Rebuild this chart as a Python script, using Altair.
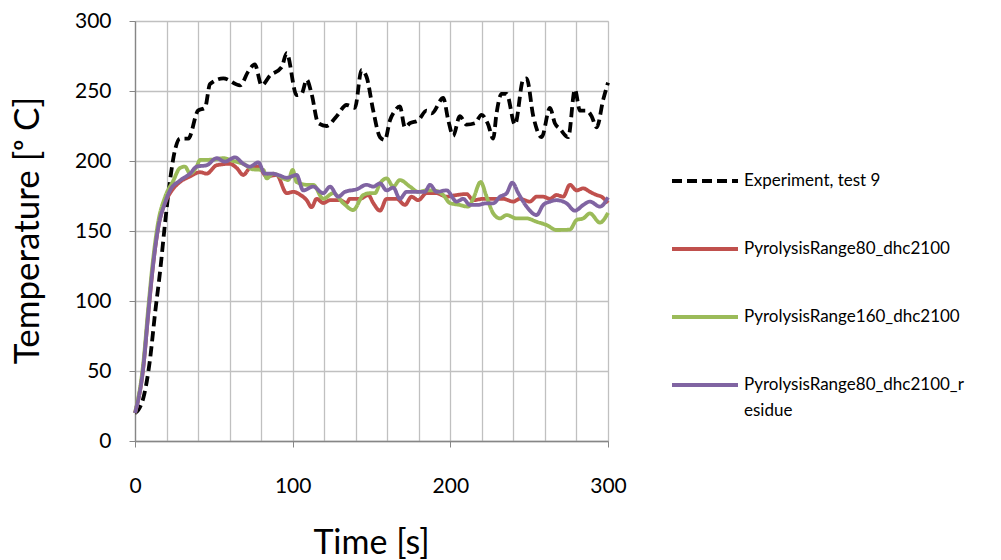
import altair as alt
import pandas as pd

series_names = ["Experiment, test 9", "PyrolysisRange80_dhc2100",
                "PyrolysisRange160_dhc2100", "PyrolysisRange80_dhc2100_residue"]
series_colors = ["#000000", "#C0504D", "#9BBB59", "#8064A2"]

exp_t = [0, 2, 6, 9.5, 12.7, 16, 19, 22.2, 25.4, 28.5, 33.8, 40, 44.4, 47.6, 56, 66.6, 71.9, 76, 80.3,
         85.6, 93, 96.2, 102.5, 105.7, 108.9, 112, 116.2, 121.5, 127.9, 134.2, 139.5, 143.7, 146.9,
         151.1, 155.4, 158.5, 161.7, 164.9, 168, 171.2, 174.4, 179.6, 184.9, 188.1, 195.5, 198.7,
         201.8, 206, 210.3, 215.6, 219.8, 224, 227.2, 229.3, 232.5, 235.7, 241, 246.2, 248.4, 252.6,
         257.9, 263.2, 266.3, 269.5, 274.8, 279, 282.2, 286.4, 289.6, 292.8, 297, 300]
exp_T = [20, 22, 34, 58, 91, 122, 155, 186, 208, 216, 216, 236, 238, 255, 259, 254, 264, 269, 254,
         261, 267, 277, 247, 248, 258, 248, 227, 225, 232, 240, 238, 265, 260,
         236, 217, 215, 229, 236, 239, 224, 227, 229, 236, 234, 245, 229,
         218, 232, 226, 227, 233, 226, 216, 234, 248, 248, 226, 258, 259, 232,
         217, 238, 227, 223, 217, 251, 236, 236, 232, 224, 244, 256]

red_t = [0, 5.3, 8.4, 11.6, 14.8, 19, 22.2, 28.5, 34.9, 41.2, 45.5, 51.8, 60.2, 64.5, 68.7, 72.9,
         78.2, 83.5, 89.8, 96.2, 100.4, 104.6, 108.9, 112, 115.2, 119.4, 123.7, 130, 134.2, 136.3,
         142.7, 148, 151.1, 155.4, 159.6, 166, 171.2, 175.4, 179.6, 184.9, 191.3, 197.6, 204, 210.3,
         214.5, 220.9, 227.2, 233.5, 239.9, 244.1, 250.5, 254.7, 258.9, 263.2, 267.4, 271.6, 275.8,
         280.1, 284.3, 288.5, 292.8, 295.9, 300]
red_T = [20, 53, 91, 127, 153, 170, 177, 185, 189, 192, 191, 197, 198, 195, 190, 195,
         196, 189, 190, 177, 178, 176, 172, 167, 173, 170, 172, 172, 170, 173,
         173, 175.7, 170, 164.5, 173, 173, 168.6, 174.5, 172, 177, 177, 174.5, 175.7, 176.4,
         172, 173, 173, 173, 171, 173, 171, 174.5, 174.5, 173, 175.7, 174.5, 183,
         179, 180.5, 178, 175.7, 174.5, 170]

green_t = [0, 5.3, 8.4, 11.6, 14.8, 19, 24.3, 28.5, 31.7, 34.9, 39.1, 41.2, 49.7, 56, 62.4, 68.7,
           75, 81.4, 83.5, 87.7, 94, 97.2, 100, 102.5, 108.9, 113, 119.4, 125.7, 132, 138.4, 144.8,
           149, 152.2, 155.4, 159.6, 163.8, 168, 174.4, 179.6, 184.9, 189.1, 195.5, 199.7, 206,
           211.3, 214.5, 219.2, 223, 227.2, 231.5, 235.7, 242, 248.4, 254.7, 261, 267.4, 275.8,
           280.1, 284.3, 288.5, 294.9, 300]
green_T = [20, 56, 95, 131, 157, 174, 186, 195, 196, 191, 196, 200.7, 201, 202, 200, 198,
           194, 193.6, 187.6, 191, 187.6, 186.4, 193.6, 185, 183, 183, 173, 177, 170, 165, 175.7,
           177, 177, 184, 187.6, 181.7, 186.4, 181.7, 178, 179, 179, 175.7, 170, 168.6,
           167.4, 173, 185, 174.5, 162.6, 159, 161.4, 159, 159, 156.6, 154.3, 150.7, 151,
           157.9, 159, 162.6, 156, 163]

purple_t = [0, 5.3, 8.4, 11.6, 14.8, 19, 22.2, 28.5, 34.9, 39.1, 45.5, 51.8, 57, 63.4, 68.7, 72.9,
            78.2, 82.4, 86.7, 90.9, 96.2, 102.5, 106.7, 113, 119.4, 123.7, 128.9, 133.2, 140.6,
            146.9, 151.1, 155.4, 159.6, 163.8, 168, 172.3, 178.6, 183.9, 187.1, 191.3, 197.6, 204,
            208.2, 212.4, 216.7, 223, 227.2, 231.5, 235.7, 239.3, 243.1, 248.4, 254.7, 258.9, 263.2,
            267.4, 273.7, 279, 284.3, 288.5, 294.9, 300]
purple_T = [20, 53, 91, 127, 153, 170, 179, 186, 191, 196, 197, 202, 199.5, 202.6, 198, 196,
            199, 191, 191, 190, 188, 190, 179, 181.7, 177, 181.7, 174.5, 178, 179.8,
            183, 181.7, 184, 179, 181, 173, 178, 178, 178, 183, 178, 179, 171,
            173, 168.6, 168.6, 169.8, 169.8, 174.5, 177, 184.5, 177, 167.4, 161.4, 168.6, 171,
            172, 169.8, 164.5, 168.6, 171, 167.4, 174]

x_grid_values = list(range(0, 301, 20))
x_label_values = [0, 100, 200, 300]
y_values = [0, 50, 100, 150, 200, 250, 300]

rows = []
for name, ts, vs in zip(series_names, [exp_t, red_t, green_t, purple_t],
                        [exp_T, red_T, green_T, purple_T]):
    for i, (t, v) in enumerate(zip(ts, vs)):
        rows.append({"series": name, "t": t, "T": v, "i": i})
df = pd.DataFrame(rows)

FONT = "Lato"
GRID = "#C0C0C0"
AXIS = "#868686"

x_scale = alt.Scale(domain=[0, 300], nice=False)
y_scale = alt.Scale(domain=[0, 300], nice=False)

y_axis = alt.Axis(values=y_values, grid=True, gridColor=GRID, gridWidth=1.3,
                  ticks=True, tickSize=6, tickColor=AXIS, domainColor=AXIS,
                  domainWidth=1.3, labelFont=FONT, labelFontSize=21,
                  labelColor="#000000", labelPadding=18,
                  title="Temperature [\u1d52 C]", titleFont=FONT, titleFontSize=35,
                  titleFontWeight="normal", titleColor="#000000", titleAngle=-90,
                  titleX=-108, titleY=209, titleBaseline="middle", titleAlign="center")

label_expr = ("datum.label == 'PyrolysisRange80_dhc2100_residue' ? "
              "['PyrolysisRange80_dhc2100_r', 'esidue'] : datum.label")

legend_def = dict(title=None, orient="none", legendX=535, legendY=125,
                  symbolType="stroke", symbolSize=4356, symbolStrokeWidth=3.8,
                  labelFont=FONT, labelFontSize=17, labelColor="#000000",
                  labelLimit=400, labelOffset=4, rowPadding=25, labelExpr=label_expr)

grid_layer = alt.Chart(df).mark_point(opacity=0).encode(
    x=alt.X("t:Q", scale=x_scale,
            axis=alt.Axis(values=x_grid_values, orient="bottom", grid=True, gridColor=GRID,
                          gridWidth=1.3, labels=False, ticks=False, domain=False, title=None)),
    y=alt.Y("T:Q", scale=y_scale, axis=y_axis),
)

lines = alt.Chart(df).mark_line(strokeWidth=3.8, interpolate="monotone").encode(
    x=alt.X("t:Q", scale=x_scale,
            axis=alt.Axis(values=x_label_values, orient="bottom", grid=False, ticks=True,
                          tickSize=6, tickColor=AXIS, domainColor=AXIS, domainWidth=1.3,
                          labelFont=FONT, labelFontSize=21, labelColor="#000000",
                          labelFlush=False, labelPadding=28, title="Time [s]", titleFont=FONT,
                          titleFontSize=34, titleFontWeight="normal", titleColor="#000000",
                          titleX=236, titleY=102, titleBaseline="middle", titleAlign="center")),
    y=alt.Y("T:Q", scale=y_scale, axis=y_axis),
    color=alt.Color("series:N", sort=series_names,
                    scale=alt.Scale(domain=series_names, range=series_colors),
                    legend=alt.Legend(**legend_def)),
    strokeDash=alt.StrokeDash("series:N", sort=series_names,
                              scale=alt.Scale(domain=series_names,
                                              range=[[10, 5], [1, 0], [1, 0], [1, 0]]),
                              legend=alt.Legend(**legend_def)),
    order="i:Q",
)

chart = alt.layer(grid_layer, lines).resolve_axis(x="independent").properties(
    width=473, height=420,
    autosize=alt.AutoSizeParams(type="none"),
    padding={"left": 135, "top": 21, "right": 393, "bottom": 119},
).configure_view(stroke=None).configure(
    background="#FFFFFF",
    style={"guide-label": {"lineHeight": 26}},
)

chart.save("out.html", embed_options={"renderer": "svg", "actions": False})
